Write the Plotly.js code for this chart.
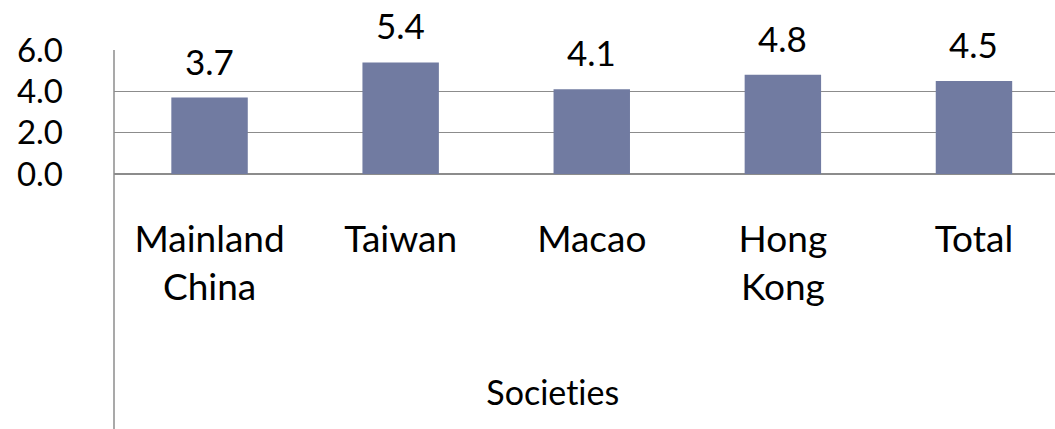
<!DOCTYPE html>
<html>
<head>
<meta charset="utf-8">
<script src="https://cdn.plot.ly/plotly-3.0.1.min.js"></script>
<style>
html,body{margin:0;padding:0;background:#fff;}
#chart{width:1055px;height:429px;}
#chart text{font-variant-ligatures:none !important;font-feature-settings:"liga" 0, "clig" 0 !important;}
</style>
</head>
<body>
<div id="chart"></div>
<script>
var categories = ["Mainland<br>China", "Taiwan", "Macao", "Hong<br>Kong", "Total"];
var values = [3.7, 5.4, 4.1, 4.8, 4.5];
var yTickVals = [0, 2, 4, 6];
var yTickText = ["0.0", "2.0", "4.0", "6.0"];
var xAxisTitle = "Societies";

var FONT = "Lato, 'Open Sans', sans-serif";

var trace = {
  type: "bar",
  x: categories,
  y: values,
  marker: {color: "#717ba1"},
  hoverinfo: "none"
};

var annotations = values.map(function (v, i) {
  return {
    x: categories[i], y: v, xref: "x", yref: "y",
    text: v.toFixed(1), showarrow: false,
    yanchor: "bottom", yshift: 14,
    font: {family: FONT, size: 35, color: "#000"}
  };
});
annotations.push({
  xref: "paper", yref: "paper", x: 0.466, y: -1.75,
  xanchor: "center", yanchor: "middle",
  text: xAxisTitle, showarrow: false,
  font: {family: FONT, size: 34, color: "#000"}
});

var layout = {
  width: 1055, height: 429,
  margin: {l: 114, r: 0, t: 50, b: 255, pad: 0},
  paper_bgcolor: "#fff", plot_bgcolor: "#fff",
  showlegend: false,
  bargap: 0.6,
  font: {family: FONT, color: "#000"},
  xaxis: {
    type: "category",
    range: [-0.5, 4.424],
    showgrid: false, zeroline: false, showline: false,
    ticks: "", ticklabelstandoff: 40,
    tickfont: {family: FONT, size: 37, color: "#000"},
    fixedrange: true
  },
  yaxis: {
    range: [0, 6],
    tickvals: yTickVals, ticktext: yTickText,
    showgrid: true, gridcolor: "#8c8c8c", gridwidth: 1.5,
    zeroline: true, zerolinecolor: "#8c8c8c", zerolinewidth: 1.5,
    showline: false, ticks: "", ticklabelstandoff: 50,
    tickfont: {family: FONT, size: 33, color: "#000"},
    fixedrange: true
  },
  shapes: [{
    type: "line", xref: "paper", yref: "paper",
    x0: 0, x1: 0, y0: 1, y1: -2.1,
    line: {color: "#8c8c8c", width: 1.5}
  }],
  annotations: annotations
};

Plotly.newPlot("chart", [trace], layout, {displayModeBar: false, staticPlot: true});
</script>
</body>
</html>
